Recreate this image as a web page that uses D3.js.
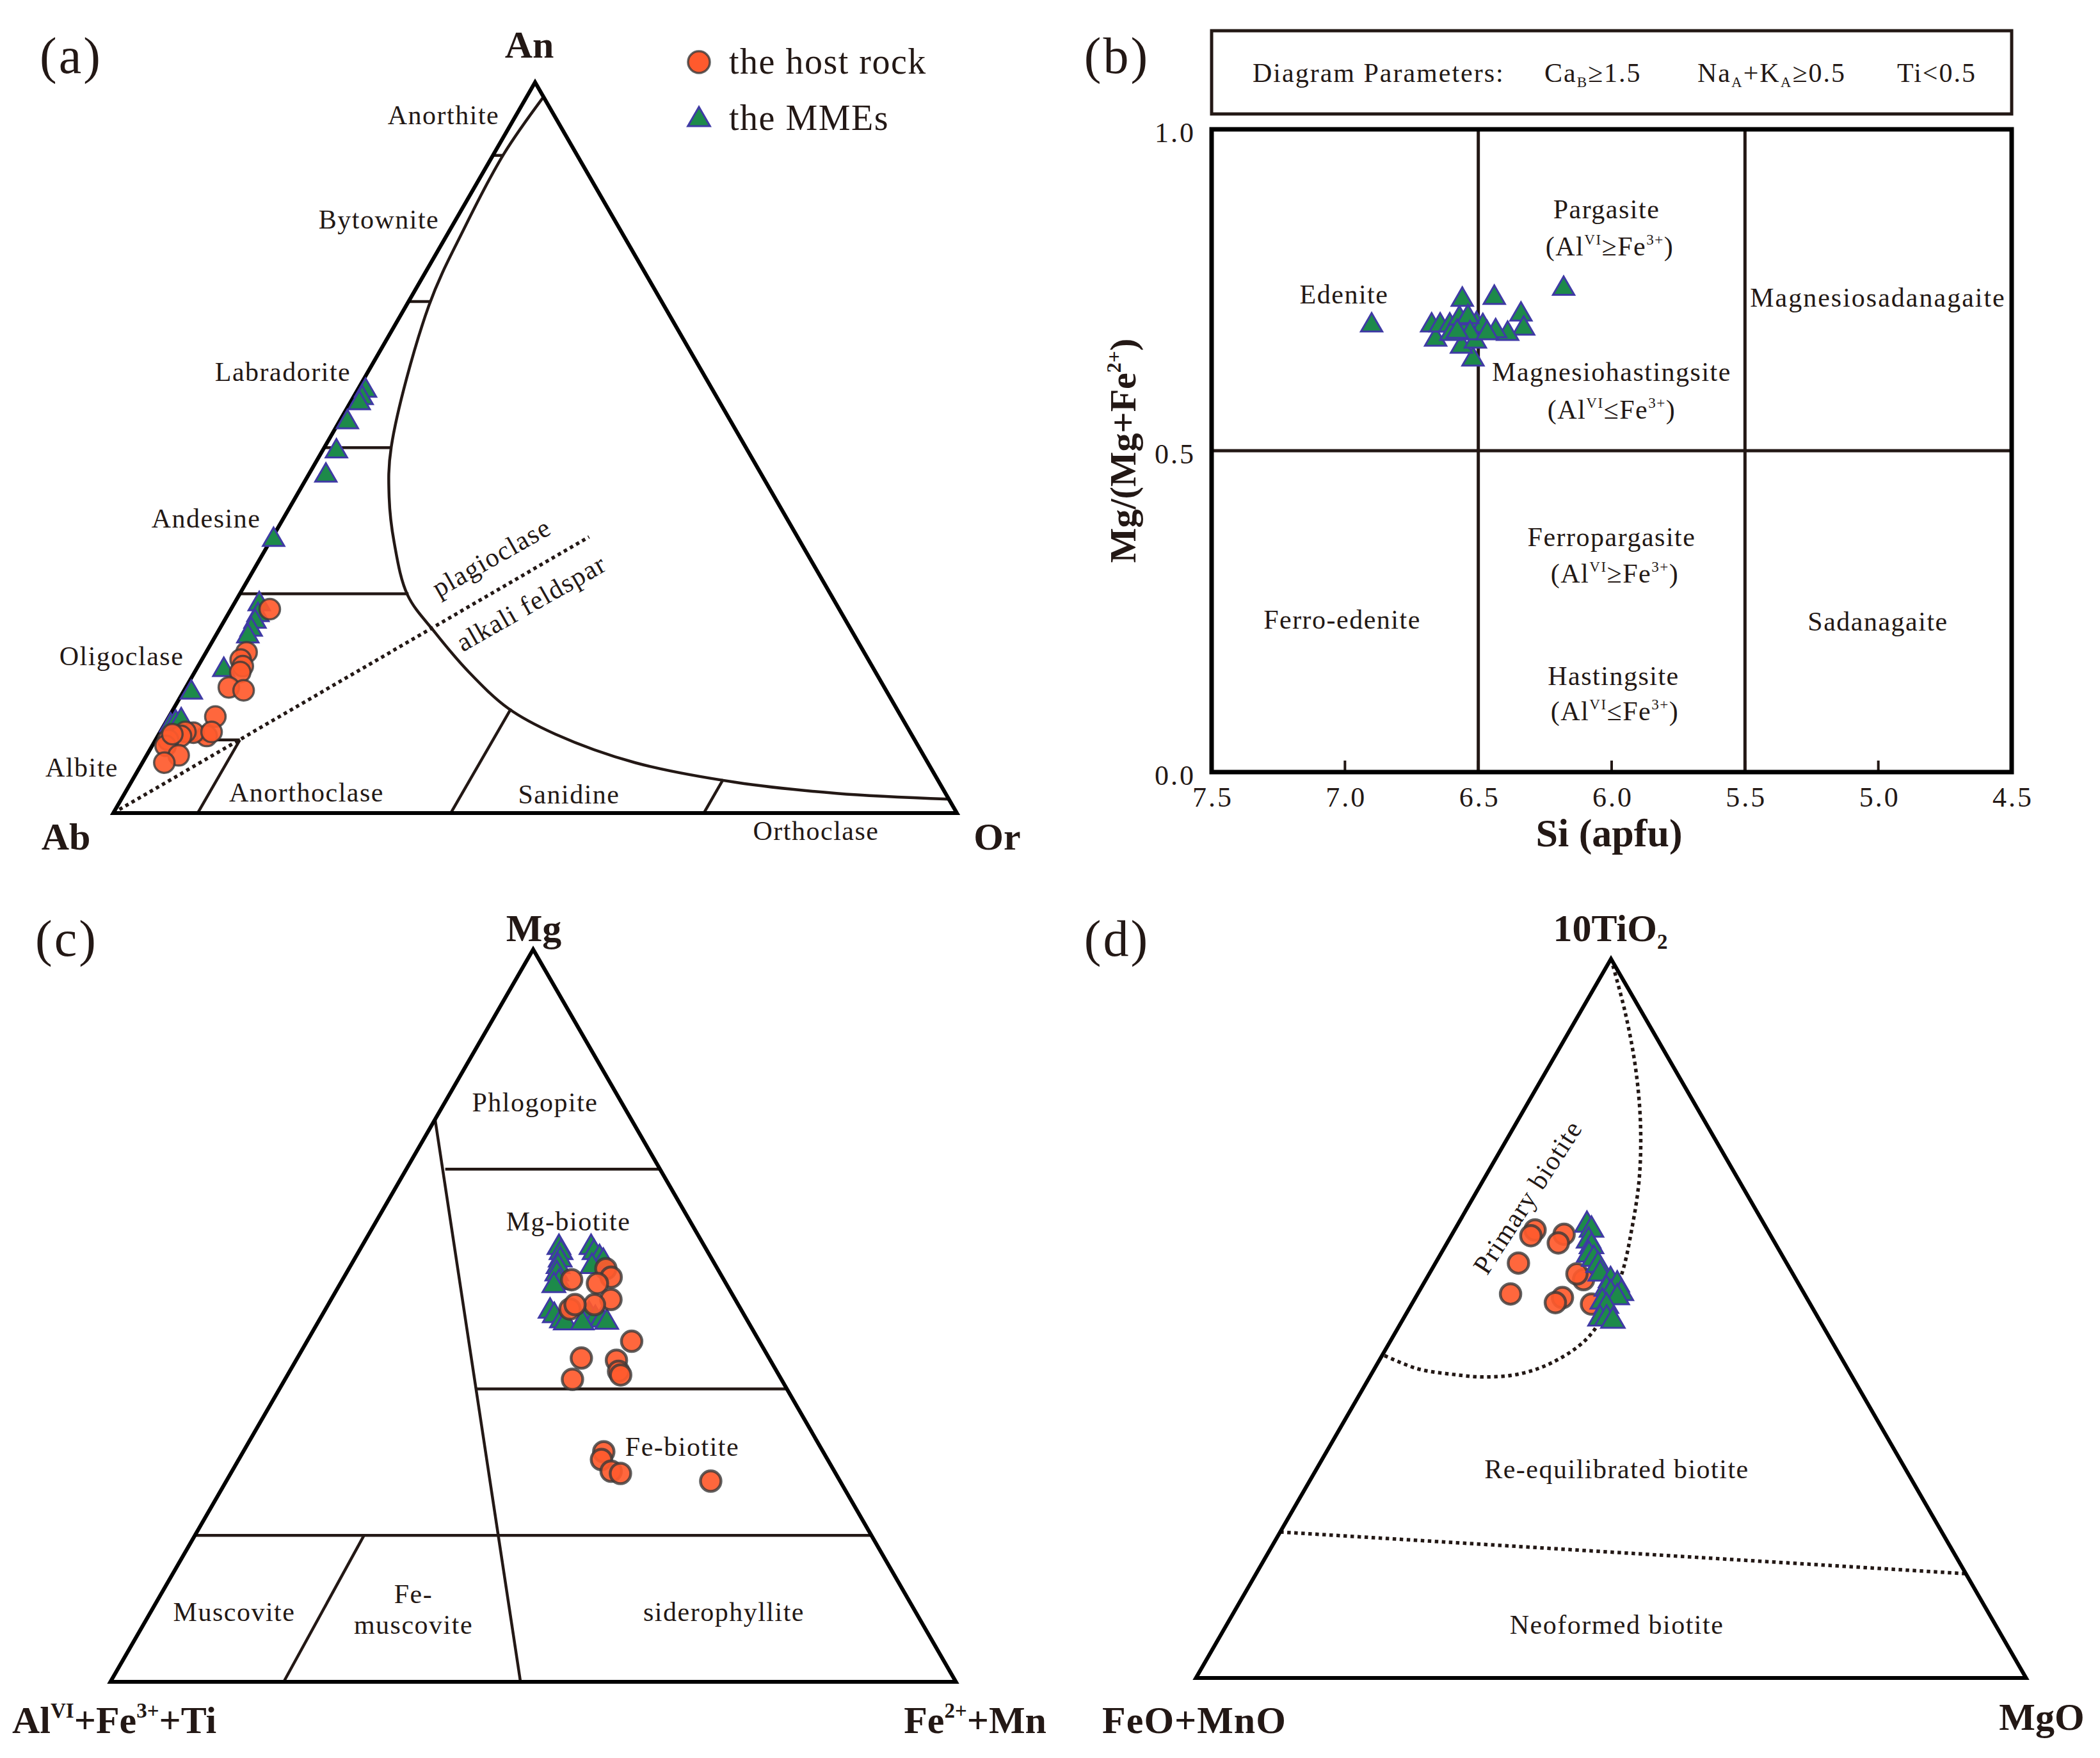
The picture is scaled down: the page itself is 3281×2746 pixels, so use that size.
<!DOCTYPE html>
<html>
<head>
<meta charset="utf-8">
<script src="https://d3js.org/d3.v7.min.js"></script>
<style>
body { margin: 0; background: #fff; }
text { font-family: "Liberation Serif", "Times New Roman", serif; fill: #231815; }
</style>
</head>
<body>
<script>
// (a) feldspar, [An, Or] fractions
const feldsparHost = [[0.279,0.046],[0.220,0.048],[0.210,0.046],[0.201,0.053],[0.193,0.054],[0.172,0.051],[0.168,0.0705],[0.132,0.055],[0.1055,0.058],[0.110,0.040],[0.111,0.030],[0.1055,0.0275],[0.100,0.015],[0.092,0.016],[0.079,0.038],[0.069,0.026],[0.108,0.016],[0.111,0.061]]
const feldsparMME = [[0.578,0.010],[0.568,0.011],[0.561,0.011],[0.535,0.010],[0.495,0.017],[0.462,0.021],[0.374,0.003],[0.286,0.030],[0.271,0.036],[0.262,0.037],[0.251,0.038],[0.242,0.0385],[0.196,0.033],[0.165,0.010],[0.120,0.008],[0.124,0.012],[0.127,0.017]]
const feldsparSolvus = [[0.98,0.02],[0.902,0.012],[0.80,0.016],[0.694,0.027],[0.501,0.079],[0.432,0.111],[0.370,0.148],[0.298,0.200],[0.247,0.258],[0.193,0.325],[0.143,0.397],[0.108,0.470],[0.069,0.584],[0.042,0.717],[0.027,0.844],[0.019,0.981]]
const plagDivs = [[0.1,0.10],[0.3,0.20],[0.5,0.079],[0.7,0.027],[0.9,0.012]]   // [An, Or at end]
const alkaliDivs = [[0.10,0.10],[0.40,0.143],[0.70,0.046]]                    // [Or, An at end]
const feldsparDivide = [[0,0],[0.378,0.375]]
const plagNames = ["Anorthite","Bytownite","Labradorite","Andesine","Oligoclase","Albite"]
const alkaliNames = ["Anorthoclase","Sanidine","Orthoclase"]

// (b) amphibole, [Si apfu, Mg/(Mg+Fe2+)]
const amphMME = [[6.90,0.695],[6.56,0.735],[6.44,0.738],[6.18,0.752],[6.34,0.712],[6.33,0.690],[6.39,0.682],[6.435,0.686],[6.52,0.642],[6.563,0.662],[6.66,0.673],[6.675,0.695],[6.643,0.695],[6.607,0.695],[6.547,0.695],[6.507,0.697],[6.483,0.694],[6.603,0.682],[6.571,0.706],[6.539,0.708],[6.511,0.670],[6.531,0.683],[6.467,0.683],[6.579,0.685]]
const siTicks = [7.5,7.0,6.5,6.0,5.5,5.0,4.5]
const mgTicks = [0.0,0.5,1.0]
const siDivs = [6.5,5.5]
const mgDivs = [0.5]

// (c) biotite, [Mg, Fe2++Mn] fractions
const bioHost = [[0.549,0.271],[0.564,0.304],[0.5525,0.316],[0.544,0.304],[0.522,0.331],[0.515,0.315],[0.509,0.289],[0.515,0.292],[0.465,0.384],[0.442,0.336],[0.439,0.379],[0.424,0.389],[0.419,0.394],[0.413,0.340],[0.314,0.4265],[0.3035,0.429],[0.2875,0.4485],[0.2845,0.461],[0.274,0.573]]
const bioMME = [[0.593,0.234],[0.586,0.240],[0.576,0.244],[0.567,0.246],[0.557,0.2495],[0.545,0.258],[0.541,0.254],[0.506,0.267],[0.500,0.275],[0.493,0.287],[0.490,0.293],[0.593,0.272],[0.586,0.279],[0.579,0.289],[0.574,0.296],[0.567,0.286],[0.502,0.315],[0.496,0.3255],[0.494,0.334],[0.491,0.3415],[0.490,0.313]]
const bioLines = [[[0.768,0],[0,0.485]],[[0.70,0.046],[0.70,0.30]],[[0.40,0.233],[0.40,0.60]],[[0.20,0],[0.20,0.80]],[[0.20,0.20],[0,0.205]]]

// (d) biotite, [10TiO2, MgO] fractions
const tiHost = [[0.623,0.097],[0.615,0.096],[0.617,0.135],[0.605,0.134],[0.577,0.100],[0.534,0.112],[0.529,0.177],[0.522,0.172],[0.554,0.190],[0.520,0.2165],[0.562,0.178]]
const tiMME = [[0.630,0.156],[0.623,0.165],[0.608,0.169],[0.600,0.1765],[0.5885,0.179],[0.5825,0.188],[0.574,0.1975],[0.562,0.206],[0.553,0.223],[0.547,0.234],[0.541,0.224],[0.535,0.232],[0.535,0.245],[0.529,0.243],[0.523,0.228],[0.517,0.236],[0.4995,0.237],[0.4995,0.245],[0.4965,0.254]]
const primaryCurve = [[1.0,0],[0.926,0.054],[0.849,0.105],[0.771,0.150],[0.694,0.187],[0.624,0.213],[0.562,0.232],[0.508,0.239],[0.469,0.234],[0.438,0.209],[0.4225,0.177],[0.4186,0.138],[0.4225,0.096],[0.430,0.052],[0.4496,0]]
const neoformedLine = [[0.203,0],[0.145,0.855]]

const INK = "#231815"
const svg = d3.select("body").append("svg")
              .attr("width", 3281)
              .attr("height", 2746)
svg.append("rect").attr("width", 3281).attr("height", 2746).attr("fill", "#fff")

const ternary = (x0, y0, side) => {
    const h = side * Math.sqrt(3) / 2
    const sx = d3.scaleLinear().domain([0, 1]).range([x0, x0 + side])
    const sy = d3.scaleLinear().domain([0, 1]).range([y0, y0 - h])
    return (top, right) => [sx(right + top / 2), sy(top)]
}

const seg = (proj, a, b, w, dash) => {
    const p = svg.append("path")
       .attr("d", d3.line()([proj(a[0], a[1]), proj(b[0], b[1])]))
       .attr("stroke", INK).attr("stroke-width", w).attr("fill", "none")
    if (dash) p.attr("stroke-dasharray", dash)
    return p
}

const frame = (proj) => {
    svg.append("path")
       .attr("d", d3.line()([proj(0, 0), proj(0, 1), proj(1, 0)]) + "Z")
       .attr("stroke", "#000").attr("stroke-width", 6).attr("fill", "none")
       .attr("stroke-linejoin", "miter")
}

const circles = (proj, data, r, sw) => {
    svg.append("g").selectAll("circle")
       .data(data)
       .enter()
       .append("circle")
       .attr("cx", d => proj(d[0], d[1])[0])
       .attr("cy", d => proj(d[0], d[1])[1])
       .attr("r", r)
       .attr("fill", "#ff5a2d")
       .attr("fill-opacity", 0.92)
       .attr("stroke", "#3a3a3a")
       .attr("stroke-opacity", 0.8)
       .attr("stroke-width", sw)
}

const triangles = (proj, data, size) => {
    svg.append("g").selectAll("path")
       .data(data)
       .enter()
       .append("path")
       .attr("d", d3.symbol(d3.symbolTriangle, size))
       .attr("transform", d => "translate(" + proj(d[0], d[1]) + ")")
       .attr("fill", "#1d8a4a")
       .attr("stroke", "#3f3aa5")
       .attr("stroke-width", 3)
}

// text with sup / sub parts, (x, y) is the visual centre
const label = (x, y, parts, size, opt = {}) => {
    const t = svg.append("text")
       .attr("x", x).attr("y", y + size * 0.33)
       .attr("font-size", size)
       .attr("text-anchor", opt.anchor || "middle")
       .attr("font-weight", opt.bold ? "bold" : "normal")
       .attr("letter-spacing", opt.ls === undefined ? 1.5 : opt.ls)
    if (opt.rotate) t.attr("transform", "rotate(" + opt.rotate + "," + x + "," + y + ")")
    let shift = 0
    ;[].concat(parts).forEach(p => {
        const str = typeof p === "string" ? p : p[0]
        const kind = typeof p === "string" ? "" : p[1]
        const target = kind === "sup" ? -0.4 * size : kind === "sub" ? 0.2 * size : 0
        t.append("tspan")
         .attr("dy", target - shift)
         .attr("font-size", kind ? size * 0.55 : size)
         .text(str)
        shift = target
    })
    return t
}

// ---------- (a) ----------
const pa = ternary(177, 1270, 1318)
seg(pa, feldsparDivide[0], feldsparDivide[1], 5.5, "5.5,5.5")
plagDivs.forEach(d => seg(pa, [d[0], 0], [d[0], d[1]], 4.5))
alkaliDivs.forEach(d => seg(pa, [0, d[0]], [d[1], d[0]], 4.5))
svg.append("path")
   .attr("d", d3.line().curve(d3.curveCatmullRom.alpha(0.5))(feldsparSolvus.map(d => pa(d[0], d[1]))))
   .attr("stroke", INK).attr("stroke-width", 4.5).attr("fill", "none")
frame(pa)
triangles(pa, feldsparMME, 480)
circles(pa, feldsparHost, 16, 3.5)

const plagPos = [[693,180],[592,343],[442,581],[322,810],[190,1025],[128,1199]]
plagNames.forEach((n, i) => label(plagPos[i][0], plagPos[i][1], n, 42))
const alkPos = [[479,1238],[889,1241],[1275,1298]]
alkaliNames.forEach((n, i) => label(alkPos[i][0], alkPos[i][1], n, 42))
label(768, 871, "plagioclase", 42, {rotate: -29.6})
label(830, 942, "alkali feldspar", 42, {rotate: -29.6})
label(827, 70, "An", 60, {bold: true, ls: 0})
label(103, 1307, "Ab", 60, {bold: true, ls: 0})
label(1558, 1307, "Or", 60, {bold: true, ls: 0})
label(111, 88, "(a)", 80, {ls: 3})

// legend
svg.append("circle").attr("cx", 1092).attr("cy", 97).attr("r", 17)
   .attr("fill", "#ff5a2d").attr("stroke", "#3a3a3a").attr("stroke-opacity", 0.8).attr("stroke-width", 3.5)
svg.append("path").attr("d", d3.symbol(d3.symbolTriangle, 520)).attr("transform", "translate(1092,187)")
   .attr("fill", "#1d8a4a").attr("stroke", "#3f3aa5").attr("stroke-width", 3)
label(1139, 97, "the host rock", 56, {anchor: "start", ls: 1.5})
label(1139, 185, "the MMEs", 56, {anchor: "start", ls: 1.5})

// ---------- (b) ----------
const xB = d3.scaleLinear().domain([7.5, 4.5]).range([1893, 3143])
const yB = d3.scaleLinear().domain([0, 1]).range([1206, 202])
const pb = (si, mg) => [xB(si), yB(mg)]

svg.append("rect").attr("x", 1893).attr("y", 48).attr("width", 1250).attr("height", 130)
   .attr("fill", "none").attr("stroke", INK).attr("stroke-width", 5)
label(1957, 114, "Diagram Parameters:", 42, {anchor: "start", ls: 2})
label(2413, 114, ["Ca", ["B", "sub"], "≥1.5"], 42, {anchor: "start", ls: 2})
label(2652, 114, ["Na", ["A", "sub"], "+K", ["A", "sub"], "≥0.5"], 42, {anchor: "start", ls: 2})
label(2964, 114, "Ti<0.5", 42, {anchor: "start", ls: 2})

siDivs.forEach(s => svg.append("line").attr("x1", xB(s)).attr("x2", xB(s)).attr("y1", yB(0)).attr("y2", yB(1))
   .attr("stroke", INK).attr("stroke-width", 5))
mgDivs.forEach(m => svg.append("line").attr("x1", xB(7.5)).attr("x2", xB(4.5)).attr("y1", yB(m)).attr("y2", yB(m))
   .attr("stroke", INK).attr("stroke-width", 5))
siTicks.forEach(s => svg.append("line").attr("x1", xB(s)).attr("x2", xB(s)).attr("y1", yB(0)).attr("y2", yB(0) - 18)
   .attr("stroke", INK).attr("stroke-width", 4))
svg.append("rect").attr("x", xB(7.5)).attr("y", yB(1)).attr("width", xB(4.5) - xB(7.5)).attr("height", yB(0) - yB(1))
   .attr("fill", "none").attr("stroke", "#000").attr("stroke-width", 7)
siTicks.forEach(s => label(xB(s) + 2, 1245, s.toFixed(1), 44, {ls: 3}))
mgTicks.forEach(m => label(1868, yB(m) + 5, m.toFixed(1), 44, {anchor: "end", ls: 3}))
label(2514, 1302, "Si (apfu)", 62, {bold: true, ls: 0})
label(1755, 704, ["Mg/(Mg+Fe", ["2+", "sup"], ")"], 58, {bold: true, ls: 0, rotate: -90})
label(1745, 88, "(b)", 80, {ls: 3})

triangles(pb, amphMME, 480)

label(2510, 327, "Pargasite", 42)
label(2515, 385, ["(Al", ["VI", "sup"], "≥Fe", ["3+", "sup"], ")"], 42)
label(2100, 460, "Edenite", 42)
label(2934, 465, "Magnesiosadanagaite", 42, {ls: 2})
label(2518, 581, "Magnesiohastingsite", 42)
label(2518, 640, ["(Al", ["VI", "sup"], "≤Fe", ["3+", "sup"], ")"], 42)
label(2518, 839, "Ferropargasite", 42)
label(2523, 896, ["(Al", ["VI", "sup"], "≥Fe", ["3+", "sup"], ")"], 42)
label(2097, 968, "Ferro-edenite", 42)
label(2934, 971, "Sadanagaite", 42)
label(2521, 1056, "Hastingsite", 42)
label(2523, 1111, ["(Al", ["VI", "sup"], "≤Fe", ["3+", "sup"], ")"], 42)

// ---------- (c) ----------
const pc = ternary(172.5, 2627, 1321)
bioLines.forEach(l => seg(pc, l[0], l[1], 4.5))
frame(pc)
triangles(pc, bioMME, 540)
circles(pc, bioHost, 16, 4.5)
label(104, 1467, "(c)", 80, {ls: 3})
label(834, 1450, "Mg", 60, {bold: true, ls: 0})
label(836, 1722, "Phlogopite", 42)
label(888, 1908, "Mg-biotite", 42)
label(1066, 2260, "Fe-biotite", 42)
label(366, 2518, "Muscovite", 42)
label(646, 2490, "Fe-", 42)
label(646, 2538, "muscovite", 42)
label(1131, 2518, "siderophyllite", 42)
label(19, 2687, ["Al", ["VI", "sup"], "+Fe", ["3+", "sup"], "+Ti"], 60, {bold: true, anchor: "start", ls: 0})
label(1635, 2687, ["Fe", ["2+", "sup"], "+Mn"], 60, {bold: true, anchor: "end", ls: 0})

// ---------- (d) ----------
const pd = ternary(1868.5, 2621, 1297)
svg.append("path")
   .attr("d", d3.line().curve(d3.curveCatmullRom.alpha(0.5))(primaryCurve.map(d => pd(d[0], d[1]))))
   .attr("stroke", INK).attr("stroke-width", 5.5).attr("fill", "none").attr("stroke-dasharray", "5.5,5.5")
seg(pd, neoformedLine[0], neoformedLine[1], 5.5, "5.5,5.5")
frame(pd)
circles(pd, tiHost, 16, 4.5)
triangles(pd, tiMME, 580)
label(1745, 1467, "(d)", 80, {ls: 3})
label(2516, 1450, ["10TiO", ["2", "sub"]], 60, {bold: true, ls: 0})
label(2387, 1870, "Primary biotite", 42, {rotate: -57})
label(2526, 2295, "Re-equilibrated biotite", 42)
label(2526, 2538, "Neoformed biotite", 42)
label(1866, 2687, "FeO+MnO", 60, {bold: true, ls: 1})
label(3190, 2682, "MgO", 60, {bold: true, ls: 0})
</script>
</body>
</html>
